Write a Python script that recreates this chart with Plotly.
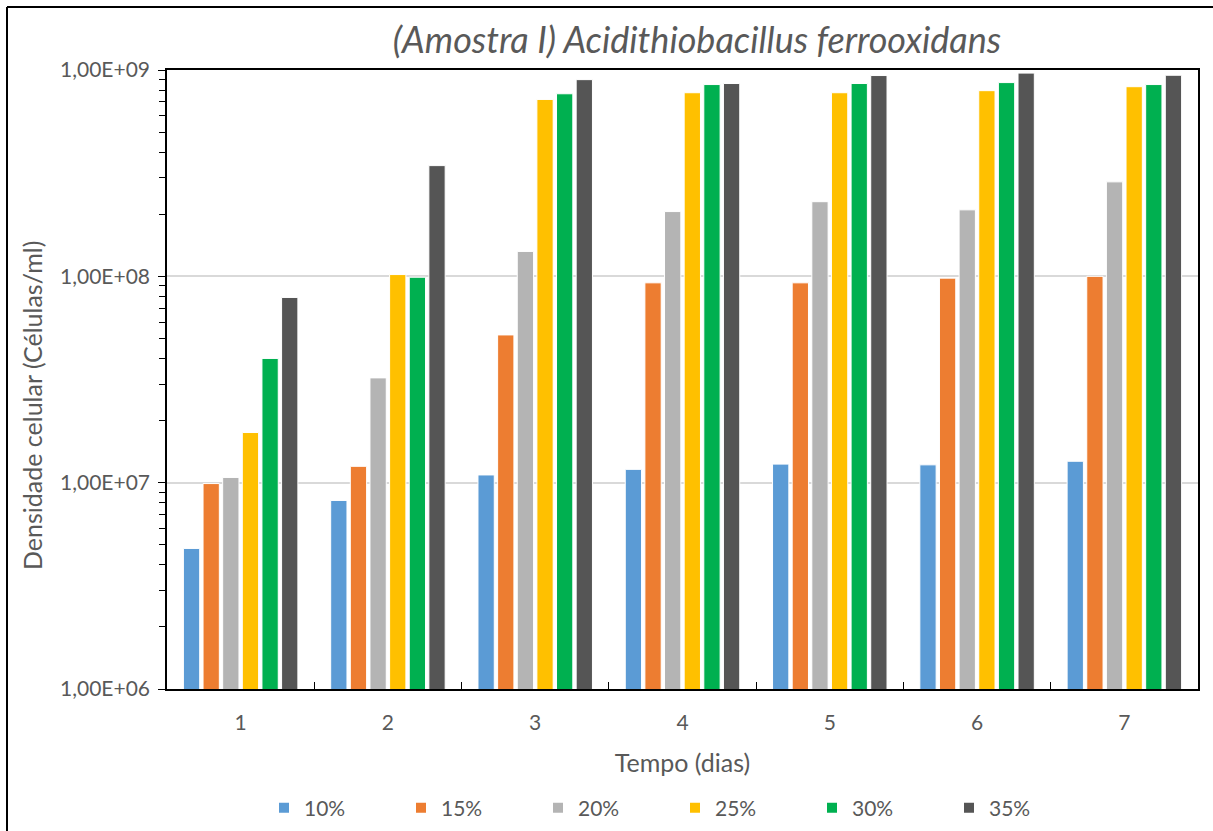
import plotly.graph_objects as go

# Culture time (days) and pulp density series
dias = ["1", "2", "3", "4", "5", "6", "7"]
series_names = ["10%", "15%", "20%", "25%", "30%", "35%"]
series_colors = ["#5B9BD5", "#ED7D31", "#B4B4B4", "#FFC000", "#00B050", "#555555"]

d10 = [4.8e6, 8.2e6, 1.09e7, 1.16e7, 1.23e7, 1.22e7, 1.27e7]
d15 = [9.9e6, 1.2e7, 5.2e7, 9.3e7, 9.3e7, 9.8e7, 1.0e8]
d20 = [1.06e7, 3.22e7, 1.32e8, 2.06e8, 2.3e8, 2.1e8, 2.87e8]
d25 = [1.75e7, 1.02e8, 7.2e8, 7.76e8, 7.76e8, 7.94e8, 8.3e8]
d30 = [4.0e7, 9.9e7, 7.67e8, 8.5e8, 8.6e8, 8.69e8, 8.5e8]
d35 = [7.9e7, 3.44e8, 8.98e8, 8.6e8, 9.4e8, 9.66e8, 9.43e8]
series_values = [d10, d15, d20, d25, d30, d35]

y_tickvals = [1e6, 1e7, 1e8, 1e9]
y_ticktext = ["1,00E+06", "1,00E+07", "1,00E+08", "1,00E+09"]

FONT = "Lato"
GREY = "#595959"

fig = go.Figure()
for name, color, vals in zip(series_names, series_colors, series_values):
    fig.add_trace(go.Bar(
        x=dias, y=vals, name=name,
        marker=dict(color=color, line=dict(color="white", width=1)),
    ))

W, H = 1213, 831
L, R, T, B = 167, 15, 70, 142
pw, ph = W - L - R, H - T - B


def px_x(p):
    return (p - L) / pw


def px_y(p):
    return (H - B - p) / ph


fig.update_layout(
    width=W, height=H,
    margin=dict(l=L, r=R, t=T, b=B, autoexpand=False),
    paper_bgcolor="white", plot_bgcolor="white",
    barmode="group", bargap=0.2, bargroupgap=0.17,
    font=dict(family=FONT, color=GREY, size=21),
    title=dict(
        text="<i>(Amostra I) Acidithiobacillus ferrooxidans</i>",
        x=px_x(697), xref="paper", xanchor="center",
        y=1 - 40 / H, yanchor="middle",
        font=dict(family=FONT, size=36, color=GREY),
    ),
    showlegend=True,
    legend=dict(
        orientation="h", x=px_x(264), xanchor="left",
        y=px_y(808), yanchor="middle",
        entrywidth=92, entrywidthmode="pixels",
        font=dict(family=FONT, size=21, color=GREY),
        itemsizing="constant", traceorder="normal",
    ),
    xaxis=dict(
        type="category", automargin=False,
        showline=True, linecolor="black", linewidth=1.5, mirror=True,
        ticks="inside", tickson="boundaries", ticklen=7, tickcolor="black",
        tickfont=dict(size=21, color=GREY), ticklabelstandoff=14,
        title=dict(text="Tempo (dias)", font=dict(size=25, color=GREY), standoff=22),
        showgrid=False,
    ),
    yaxis=dict(
        type="log", range=[6, 9], automargin=False,
        tickvals=y_tickvals, ticktext=y_ticktext,
        showline=True, linecolor="black", linewidth=1.5, mirror=True,
        ticks="outside", ticklen=7, tickcolor="black",
        tickfont=dict(size=21, color=GREY), ticklabelstandoff=4,
        showgrid=True, gridcolor="#D9D9D9", gridwidth=1.5,
        minor=dict(ticks="outside", ticklen=6, tickcolor="black", dtick="D1", showgrid=False),
        zeroline=False,
    ),
    shapes=[
        dict(type="line", xref="paper", yref="paper",
             x0=px_x(7), x1=px_x(1213), y0=px_y(7), y1=px_y(7),
             line=dict(color="black", width=2)),
        dict(type="line", xref="paper", yref="paper",
             x0=px_x(7), x1=px_x(7), y0=px_y(7), y1=px_y(831),
             line=dict(color="black", width=2)),
    ],
    annotations=[
        dict(text="Densidade celular (Células/ml)", textangle=-90,
             xref="paper", yref="paper", x=px_x(32), y=px_y(406),
             xanchor="center", yanchor="middle", showarrow=False,
             font=dict(family=FONT, size=25, color=GREY)),
    ],
)

fig.write_html("out.html")
